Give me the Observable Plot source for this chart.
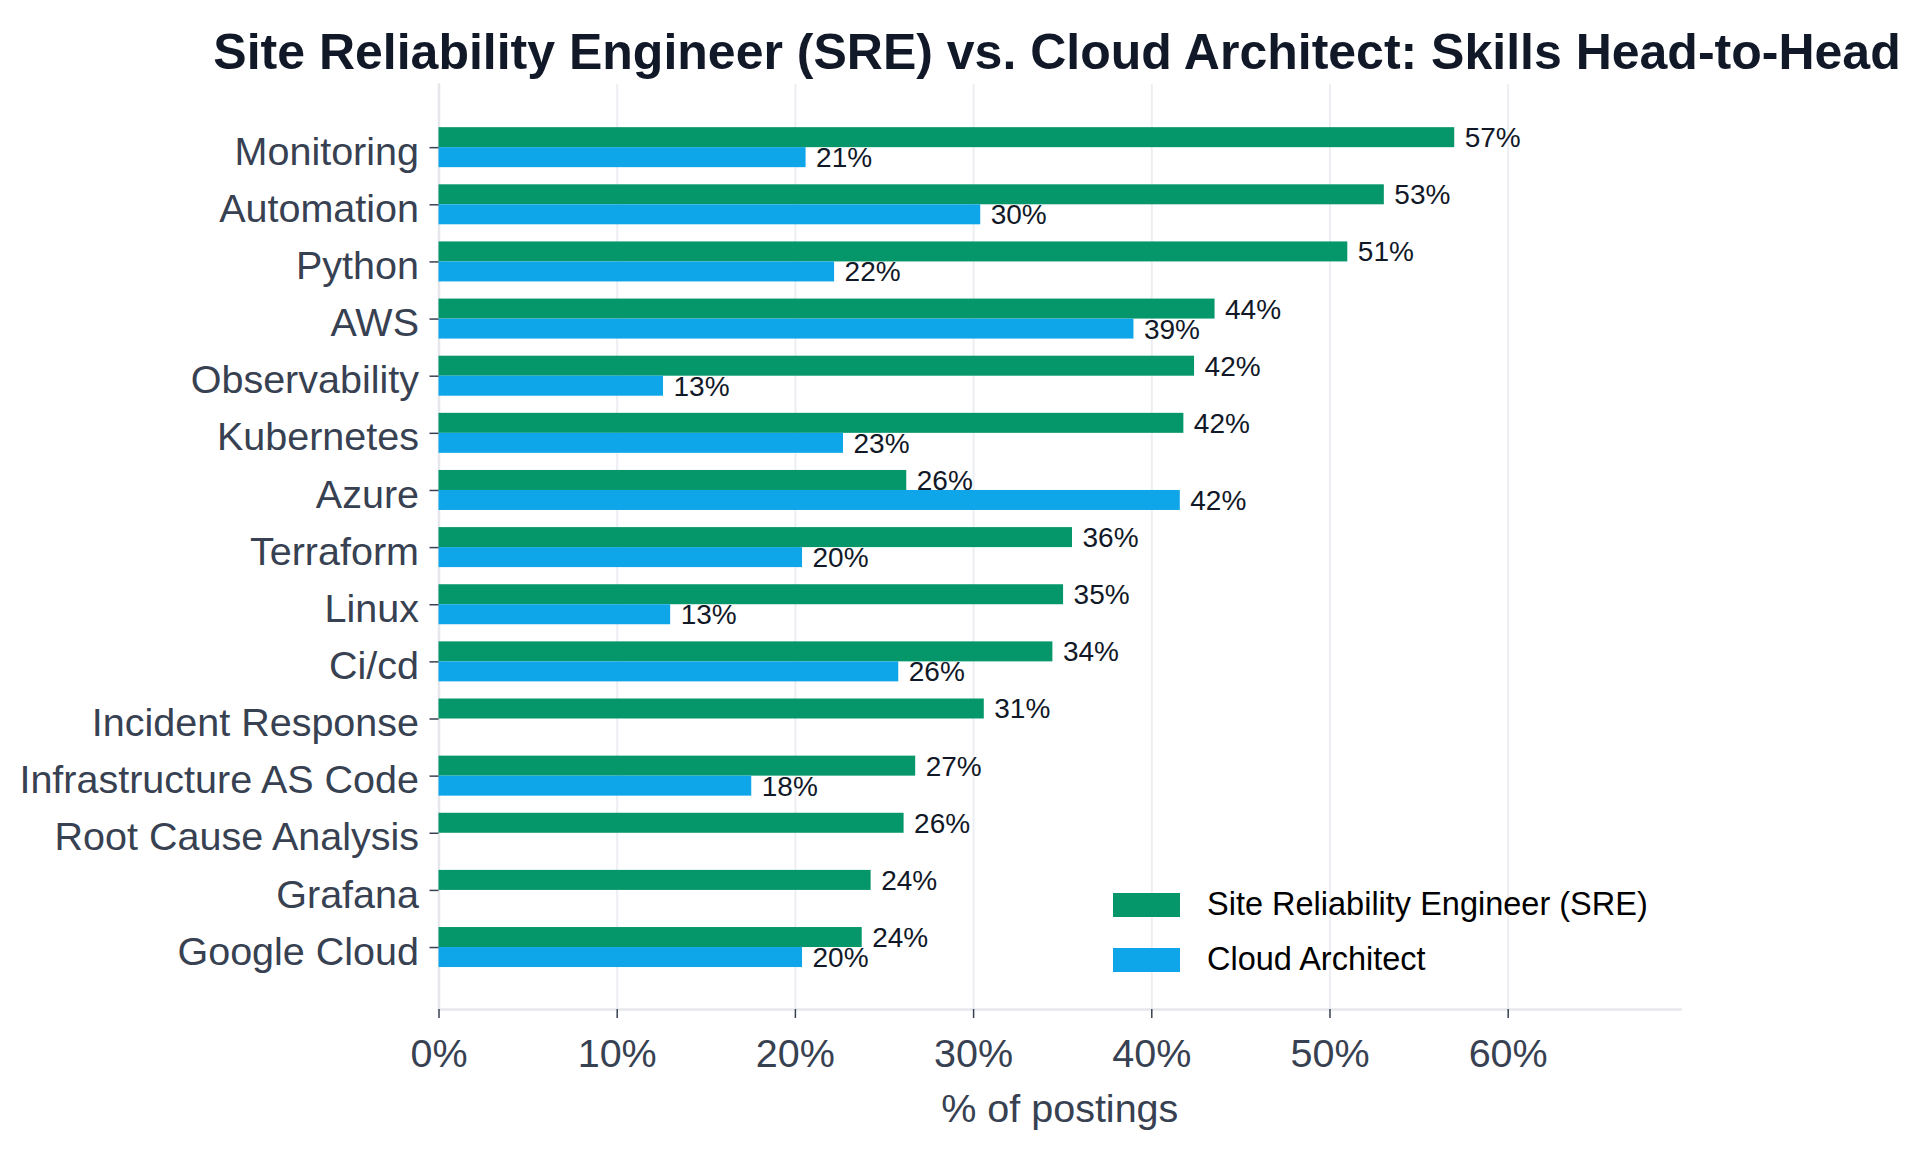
<!DOCTYPE html>
<html>
<head>
<meta charset="utf-8">
<script src="https://cdn.jsdelivr.net/npm/d3@7"></script>
<script src="https://cdn.jsdelivr.net/npm/@observablehq/plot@0.6"></script>
<style>
  html, body { margin: 0; padding: 0; background: #fff; overflow: hidden; }
  #root { position: relative; width: 1922px; height: 1150px; font-family: "Liberation Sans", Arial, sans-serif; }
  #title { position: absolute; left: 0; width: 2114px; top: 24px; text-align: center; font-weight: 700; font-size: 50px; line-height: 56px; color: #111827; white-space: nowrap; }
  #chart { position: absolute; left: 0; top: 84px; }
  #chart svg { display: block; }
  #legend { position: absolute; left: 1113px; top: 877px; font-size: 32.5px; color: #000; }
  .row { display: flex; align-items: center; height: 55px; }
  .sw { width: 67px; height: 24px; margin-right: 27px; }
</style>
</head>
<body>
<div id="root">
  <div id="title"></div>
  <div id="chart"></div>
  <div id="legend"></div>
</div>
<script>
const titleText = "Site Reliability Engineer (SRE) vs. Cloud Architect: Skills Head-to-Head";
const skills = ["Monitoring","Automation","Python","AWS","Observability","Kubernetes","Azure","Terraform","Linux","Ci/cd","Incident Response","Infrastructure AS Code","Root Cause Analysis","Grafana","Google Cloud"];
const sreValues = [57.0,53.05,51.0,43.55,42.4,41.8,26.25,35.55,35.05,34.45,30.6,26.75,26.1,24.25,23.75];
const cloudValues = [20.6,30.4,22.2,39.0,12.6,22.7,41.6,20.4,13.0,25.8,null,17.55,null,null,20.4];
const seriesNames = ["Site Reliability Engineer (SRE)","Cloud Architect"];
const seriesColors = ["#059669","#0EA5E9"];
const xTicks = [0,10,20,30,40,50,60];

const sre = skills.map((skill,i)=>({skill,value:sreValues[i]}));
const cloud = skills.map((skill,i)=>({skill,value:cloudValues[i]})).filter(d=>d.value!=null);
const pct = d => `${Math.round(d.value)}%`;

const inkColor = "#374151";
const plot = Plot.plot({
  width: 1922,
  height: 1066,
  marginLeft: 438.5,
  marginRight: 242,
  marginTop: 0,
  marginBottom: 141,
  style: {background:"#fff", fontFamily:'"Liberation Sans", Arial, sans-serif', overflow:"visible"},
  x: {domain:[0,69.67], range:[438.5,1680]},
  y: {domain:skills, range:[0.6,925.6], paddingInner:0.3, paddingOuter:0.745, align:0.5, round:false},
  marks: [
    Plot.gridX(xTicks,{stroke:"#eceef2", strokeOpacity:1, strokeWidth:2}),
    Plot.frame({anchor:"left", stroke:"#e5e7eb", strokeWidth:2.5}),
    Plot.frame({anchor:"bottom", stroke:"#e5e7eb", strokeWidth:2.5}),
    Plot.barX(sre,{x:"value", y:"skill", fill:seriesColors[0], insetBottom:20}),
    Plot.barX(cloud,{x:"value", y:"skill", fill:seriesColors[1], insetTop:20}),
    Plot.text(sre,{x:"value", y:"skill", text:pct, dx:10, dy:-9.5, textAnchor:"start", fontSize:28, fill:"#111827"}),
    Plot.text(cloud,{x:"value", y:"skill", text:pct, dx:10, dy:10.5, textAnchor:"start", fontSize:28, fill:"#111827"}),
    Plot.axisX({ticks:xTicks, tickFormat:d=>`${d}%`, fontSize:39.5, tickSize:9, tickPadding:20, stroke:inkColor, strokeWidth:1.5, fill:inkColor, label:"% of postings", labelAnchor:"center", labelArrow:"none", labelOffset:112}),
    Plot.axisY({tickSize:9, fill:"none", stroke:inkColor, strokeWidth:1.5, label:null}),
    Plot.axisY({tickSize:9, tickPadding:11, dy:4.5, fontSize:39.5, stroke:"none", fill:inkColor, label:null})
  ]
});
document.getElementById("chart").appendChild(plot);
document.getElementById("title").textContent = titleText;
const legend = document.getElementById("legend");
seriesNames.forEach((name,i)=>{
  const row = document.createElement("div"); row.className="row";
  const sw = document.createElement("div"); sw.className="sw"; sw.style.background = seriesColors[i];
  const label = document.createElement("span"); label.textContent = name;
  row.append(sw,label); legend.appendChild(row);
});
</script>
</body>
</html>
